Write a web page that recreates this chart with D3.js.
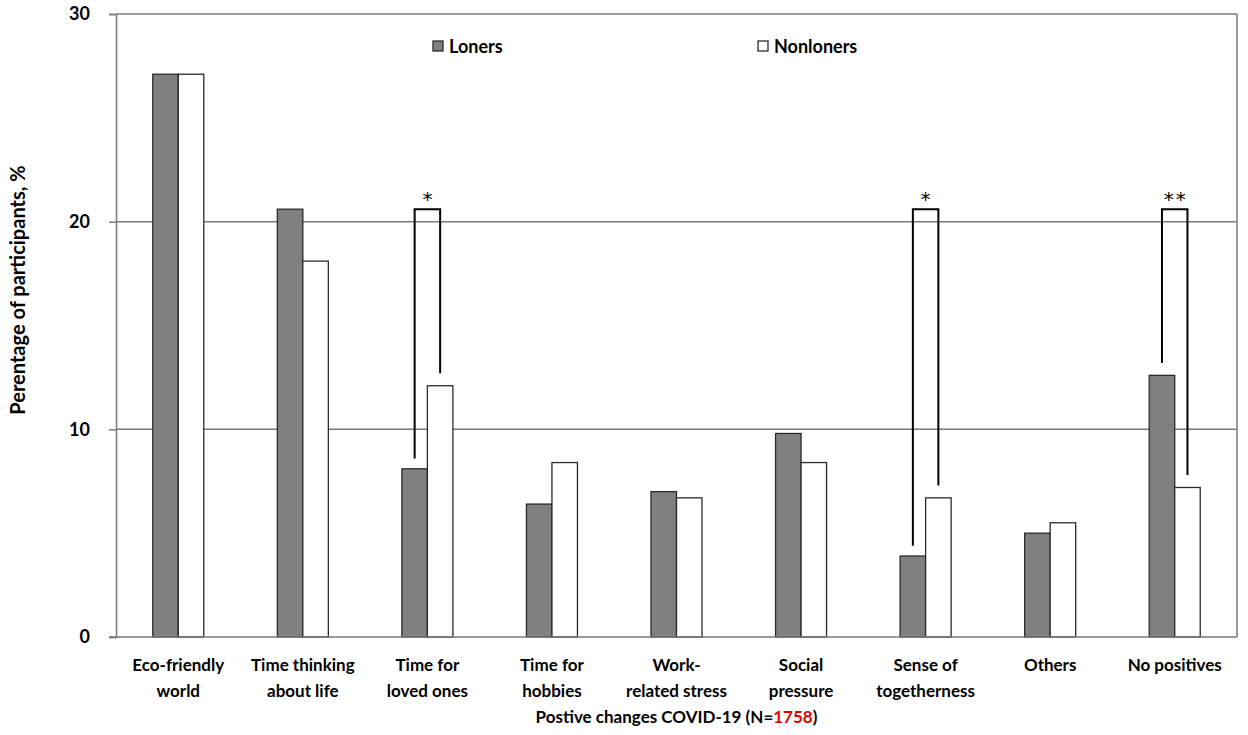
<!DOCTYPE html>
<html><head><meta charset="utf-8">
<script src="https://cdn.jsdelivr.net/npm/d3@7"></script>
<style>body{margin:0;background:#fff}svg text{font-family:Lato,"Open Sans",sans-serif;font-weight:bold;fill:#000}</style>
</head><body><svg id="c" width="1248" height="735"></svg>
<script>
const categories = [["Eco-friendly","world"],["Time thinking","about life"],["Time for","loved ones"],["Time for","hobbies"],["Work-","related stress"],["Social","pressure"],["Sense of","togetherness"],["Others"],["No positives"]];
const loners = [27.1, 20.6, 8.1, 6.4, 7.0, 9.8, 3.9, 5.0, 12.6];
const nonloners = [27.1, 18.1, 12.1, 8.4, 6.7, 8.4, 6.7, 5.5, 7.2];
const yTicks = [0, 10, 20, 30];
const seriesNames = ["Loners", "Nonloners"];
// significance brackets: category index, label, top value, left leg end, right leg end
const sig = [
  {i:2, label:"*", top:20.6, l:8.6, r:12.7},
  {i:6, label:"*", top:20.6, l:4.4, r:7.3},
  {i:8, label:"**", top:20.6, l:13.2, r:7.8}
];

const svg = d3.select("#c");
const L = 116, R = 1237, T = 14, B = 637;
const x = d3.scaleBand().domain(d3.range(categories.length)).range([L, R]);
const y = d3.scaleLinear().domain([0, 30]).range([B, T]);
const bw = 25.5;
const colors = ["#808080", "#ffffff"];

// gridlines
svg.append("g").selectAll("line").data(yTicks.filter(d=>d>0)).join("line")
  .attr("x1", L).attr("x2", R).attr("y1", d=>y(d)).attr("y2", d=>y(d))
  .attr("stroke", "#7a7a7a").attr("stroke-width", 1.5);
// right border
svg.append("line").attr("x1", R).attr("x2", R).attr("y1", T).attr("y2", B).attr("stroke", "#7a7a7a").attr("stroke-width", 1.5);

// y axis
const ya = svg.append("g").attr("transform", `translate(${L},0)`)
  .call(d3.axisLeft(y).tickValues(yTicks).tickSize(7).tickPadding(19));
ya.select(".domain").attr("stroke", "#7a7a7a").attr("stroke-width", 1.5);
ya.selectAll(".tick line").attr("stroke", "#7a7a7a").attr("stroke-width", 1.5);
ya.selectAll(".tick text").style("font-size", "18px").attr("font-family", null);

// bars
const series = [loners, nonloners];
series.forEach((vals, s) => {
  svg.append("g").selectAll("rect").data(vals).join("rect")
    .attr("x", (d,i) => x(i) + x.bandwidth()/2 + (s===0 ? -bw : 0))
    .attr("y", d => y(d)).attr("width", bw).attr("height", d => B - y(d))
    .attr("fill", colors[s]).attr("stroke", "#2a2a2a").attr("stroke-width", 1.3);
});

// baseline
svg.append("line").attr("x1", L-7).attr("x2", R).attr("y1", B).attr("y2", B).attr("stroke", "#7a7a7a").attr("stroke-width", 1.5);

// brackets
sig.forEach(d => {
  const cx = x(d.i) + x.bandwidth()/2;
  const xl = cx - bw/2, xr = cx + bw/2;
  svg.append("path")
    .attr("d", `M${xl},${y(d.l)}V${y(d.top)}H${xr}V${y(d.r)}`)
    .attr("fill", "none").attr("stroke", "#000").attr("stroke-width", 2);
  svg.append("text").attr("x", cx + 1).attr("y", y(d.top) - 3).attr("text-anchor", "middle")
    .style("font-family", "'DejaVu Sans'").style("font-size", "20px").style("font-weight", "normal")
    .style("letter-spacing", "2px").text(d.label);
});

// x labels
categories.forEach((lines, i) => {
  const t = svg.append("text").attr("text-anchor", "middle").style("font-size", "17px");
  lines.forEach((ln, k) => t.append("tspan").attr("x", x(i) + x.bandwidth()/2).attr("y", 671 + k*26).text(ln));
});

// x title
const xt = svg.append("text").attr("x", (L+R)/2).attr("y", 723).attr("text-anchor", "middle").style("font-size", "17px");
xt.append("tspan").text("Postive changes COVID-19 (N=");
xt.append("tspan").style("fill", "#e00000").text("1758");
xt.append("tspan").text(")");

// y title
svg.append("text").attr("transform", "translate(25,290) rotate(-90)").attr("text-anchor", "middle")
  .style("font-size", "20px").text("Perentage of participants, %");

// legend
const leg = [{x:433, name:seriesNames[0], c:colors[0]}, {x:758, name:seriesNames[1], c:colors[1]}];
leg.forEach(d => {
  svg.append("rect").attr("x", d.x).attr("y", 41).attr("width", 10).attr("height", 10)
    .attr("fill", d.c).attr("stroke", "#2a2a2a").attr("stroke-width", 1.3);
  svg.append("text").attr("x", d.x + 16).attr("y", 52.5).style("font-size", "18px").text(d.name);
});
</script></body></html>
